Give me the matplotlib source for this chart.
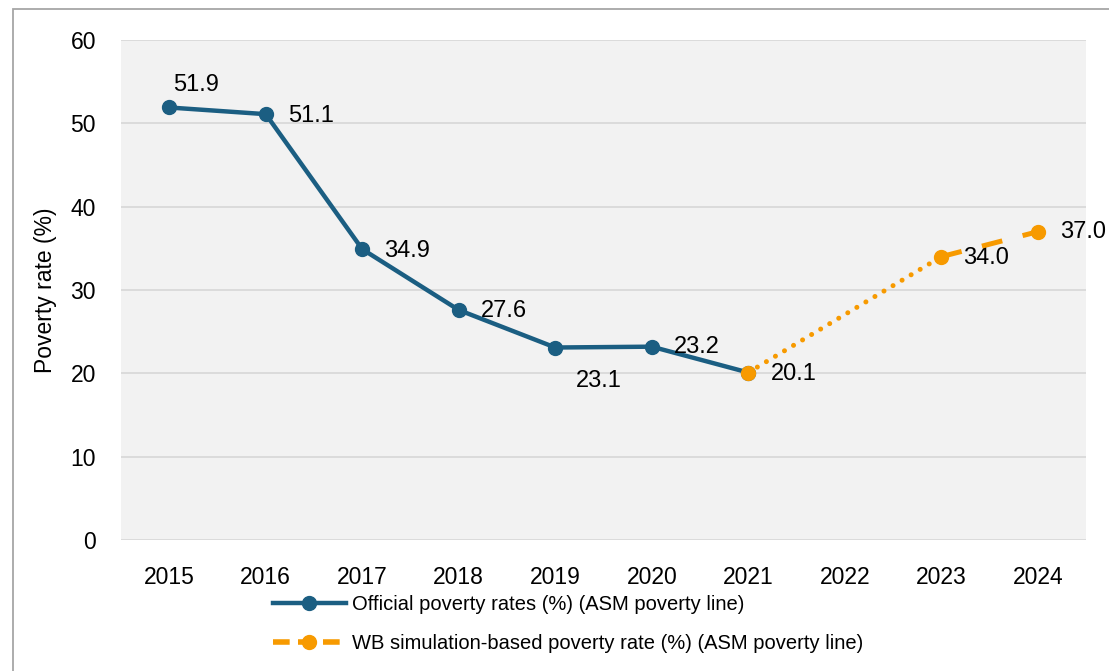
import numpy as np
import matplotlib.pyplot as plt
from matplotlib.patches import Rectangle
from matplotlib.lines import Line2D

years = ['2015', '2016', '2017', '2018', '2019', '2020', '2021', '2022', '2023', '2024']
official = [51.9, 51.1, 34.9, 27.6, 23.1, 23.2, 20.1, np.nan, np.nan, np.nan]
simulated = [np.nan, np.nan, np.nan, np.nan, np.nan, np.nan, 20.1, np.nan, 34.0, 37.0]

# label offsets in points (dx, dy) for each official / simulated value
official_offsets = [(3, 16), (16, -1), (16, -1), (16, -1), (15, -24), (16, 0), (16, -1)]
simulated_offsets = {8: (16, -1), 9: (16, 0)}

blue = '#1b5e82'
orange = '#f79a00'

plt.rcParams['font.family'] = ['Liberation Sans', 'DejaVu Sans']

fig = plt.figure(figsize=(11.09, 6.71), dpi=100)
ax = fig.add_axes([0.1091, 0.1952, 0.8702, 0.7452])
ax.set_facecolor('#f2f2f2')

x = np.arange(len(years))
off = np.array(official)
sim = np.array(simulated)

ax.plot(x, off, color=blue, lw=3.2, marker='o', ms=10, zorder=3)

# simulated series: dotted across the missing year, dashed between later points
sx = x[~np.isnan(sim)]
sy = sim[~np.isnan(sim)]
ax.plot(sx[:2], sy[:2], color=orange, lw=3.6, ls=(0, (0.01, 2.1)),
        dash_capstyle='round', zorder=4)
ax.plot(sx[1:], sy[1:], color=orange, lw=3.6, ls=(0, (4.2, 4.2)), zorder=4)
ax.plot(sx, sy, ls='none', marker='o', ms=10, color=orange, zorder=5)

for i, v in enumerate(official[:7]):
    ax.annotate(f'{v:.1f}', (x[i], v), xytext=official_offsets[i],
                textcoords='offset points', ha='left', va='center', fontsize=17)
for i, (dx, dy) in simulated_offsets.items():
    ax.annotate(f'{simulated[i]:.1f}', (x[i], simulated[i]), xytext=(dx, dy),
                textcoords='offset points', ha='left', va='center', fontsize=17,
                annotation_clip=False)

ax.set_xlim(-0.5, len(years) - 0.5)
ax.set_ylim(0, 60)
ax.set_yticks(range(0, 61, 10))
ax.set_xticks(x)
ax.set_xticklabels(years)
ax.tick_params(length=0, labelsize=16.5)
ax.tick_params(axis='x', pad=19)
ax.tick_params(axis='y', pad=18)
ax.grid(axis='y', color='#d9d9d9', lw=1.3)
ax.set_axisbelow(True)
for s in ax.spines.values():
    s.set_visible(False)
ax.set_ylabel('Poverty rate (%)', fontsize=16.5, labelpad=10)

handles = [
    Line2D([], [], color=blue, lw=3.2, marker='o', ms=10),
    Line2D([], [], color=orange, lw=4, ls=(0, (3, 1.5)), marker='o', ms=10),
]
labels = ['Official poverty rates (%) (ASM poverty line)',
          'WB simulation-based poverty rate (%) (ASM poverty line)']
fig.legend(handles, labels, loc='upper left', bbox_to_anchor=(0.23, 0.14),
           frameon=False, fontsize=14.5, handlelength=3.6, handletextpad=0.3,
           labelspacing=1.0)

# outer frame of the chart area
fig.patches.append(Rectangle((13 / 1109, -0.1), 1.2, 1 - 9 / 671 + 0.1,
                             transform=fig.transFigure, fill=False,
                             edgecolor='#a6a6a6', lw=1.3))

fig.savefig('out.png', dpi=100)
